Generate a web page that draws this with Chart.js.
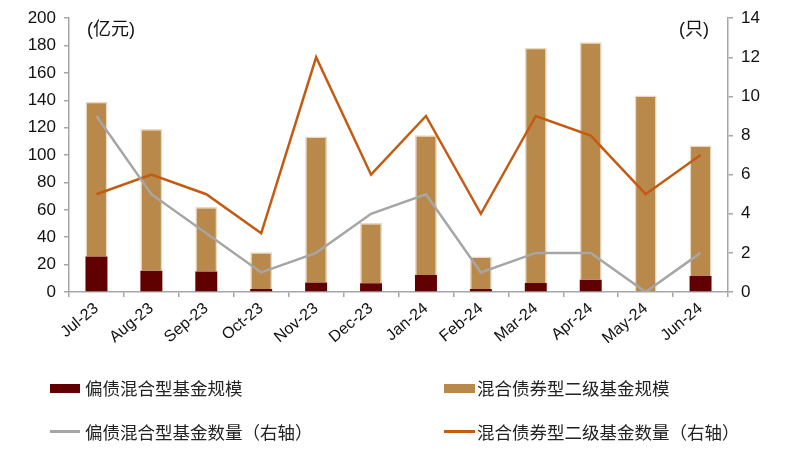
<!DOCTYPE html>
<html>
<head>
<meta charset="utf-8">
<script src="https://cdn.jsdelivr.net/npm/chart.js@4"></script>
<style>
html,body{margin:0;padding:0;background:#fff;}
#wrap{position:relative;width:798px;height:459px;}
.lg{position:absolute;font-family:"Noto Sans CJK SC","Liberation Sans",sans-serif;font-size:17.5px;color:#222;line-height:20px;white-space:nowrap;}
.sw{position:absolute;}
.unit{position:absolute;font-family:"Liberation Sans","Noto Sans CJK SC",sans-serif;font-size:18px;color:#111;}
</style>
</head>
<body>
<div id="wrap">
<canvas id="c" width="798" height="459"></canvas>
<div class="unit" style="left:87px;top:14px;">(亿元)</div>
<div class="unit" style="left:679px;top:14px;">(只)</div>
<div class="sw" style="left:50px;top:384px;width:30px;height:9px;background:#600000;"></div>
<div class="lg" style="left:85px;top:378px;">偏债混合型基金规模</div>
<div class="sw" style="left:444px;top:384px;width:31px;height:9px;background:#B8894A;"></div>
<div class="lg" style="left:477px;top:378px;">混合债券型二级基金规模</div>
<div class="sw" style="left:50px;top:430px;width:30px;height:2.5px;background:#A6A6A6;"></div>
<div class="lg" style="left:85px;top:422px;">偏债混合型基金数量（右轴）</div>
<div class="sw" style="left:444px;top:430px;width:31px;height:2.5px;background:#C55A11;"></div>
<div class="lg" style="left:477px;top:422px;">混合债券型二级基金数量（右轴）</div>
</div>
<script>
const categories = ["Jul-23","Aug-23","Sep-23","Oct-23","Nov-23","Dec-23","Jan-24","Feb-24","Mar-24","Apr-24","May-24","Jun-24"];
const biasedScale = [26, 15.5, 15, 2.2, 7, 6.4, 12.5, 2.2, 6.6, 9, 0, 11.7];
const totalScale = [139, 119, 62, 29, 113.6, 50.4, 114.5, 25.9, 178.5, 182.4, 143.6, 107];
const secondaryScale = totalScale.map((t, i) => t - biasedScale[i]);
const biasedCount = [9, 5, 3, 1, 2, 4, 5, 1, 2, 2, 0, 2];
const secondaryCount = [5, 6, 5, 3, 12, 6, 9, 4, 9, 8, 5, 7];
const leftTicks = [0,20,40,60,80,100,120,140,160,180,200];
const rightTicks = [0,2,4,6,8,10,12,14];

const axisColor = '#A6A6A6';
const tickFont = {family: '"Liberation Sans", Arial, sans-serif', size: 17};

new Chart(document.getElementById('c'), {
  data: {
    labels: categories,
    datasets: [
      {type:'line', label:'偏债混合型基金数量（右轴）', data: biasedCount, yAxisID:'y1', borderColor:'#A6A6A6', borderWidth:2.5, pointRadius:0, tension:0, order:0},
      {type:'line', label:'混合债券型二级基金数量（右轴）', data: secondaryCount, yAxisID:'y1', borderColor:'#C55A11', borderWidth:2.5, pointRadius:0, tension:0, order:0},
      {type:'bar', label:'偏债混合型基金规模', data: biasedScale, yAxisID:'y', stack:'s', backgroundColor:'#600000', borderWidth:0, categoryPercentage:1, barPercentage:0.4, order:1},
      {type:'bar', label:'混合债券型二级基金规模', data: secondaryScale, yAxisID:'y', stack:'s', backgroundColor:'#B8894A', borderColor:'#E9D9BF', borderWidth:{top:1.5,left:1.5,right:1.5,bottom:0}, borderSkipped:false, categoryPercentage:1, barPercentage:0.4, order:1}
    ]
  },
  options: {
    responsive:false,
    animation:false,
    layout:{padding:{top:16, right:0, left:0, bottom:0}},
    plugins:{legend:{display:false}, tooltip:{enabled:false}},
    scales:{
      x:{
        stacked:true,
        offset:true,
        grid:{display:true, drawOnChartArea:false, drawTicks:true, tickLength:5, color:axisColor, offset:true, lineWidth:1.5},
        border:{display:true, color:axisColor, width:1.5},
        ticks:{font:{family:'"Liberation Sans", Arial, sans-serif', size:16}, color:'#111', minRotation:40, maxRotation:40, padding:2},
        afterFit(s){ s.height = 167; }
      },
      y:{
        type:'linear', position:'left', stacked:true, min:0, max:200,
        afterBuildTicks(s){ s.ticks = leftTicks.map(v=>({value:v})); },
        grid:{display:true, drawOnChartArea:false, drawTicks:true, tickLength:5, color:axisColor, lineWidth:1.5},
        border:{display:true, color:axisColor, width:1.5},
        ticks:{font:tickFont, color:'#111', padding:8},
        afterFit(s){ s.width = 69; }
      },
      y1:{
        type:'linear', position:'right', min:0, max:14,
        afterBuildTicks(s){ s.ticks = rightTicks.map(v=>({value:v})); },
        grid:{display:true, drawOnChartArea:false, drawTicks:true, tickLength:5, color:axisColor, lineWidth:1.5},
        border:{display:true, color:axisColor, width:1.5},
        ticks:{font:tickFont, color:'#111', padding:8},
        afterFit(s){ s.width = 70; }
      }
    }
  }
});
</script>
</body>
</html>
